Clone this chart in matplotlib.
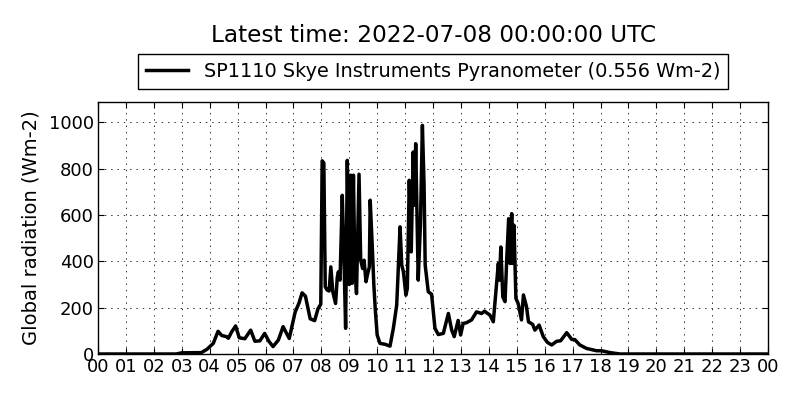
import matplotlib
matplotlib.use("Agg")
import matplotlib.pyplot as plt

hours = [0.0, 2.8, 3.0, 3.7, 3.9, 4.13, 4.3, 4.43, 4.6, 4.67, 4.79, 4.93, 5.06, 5.26, 5.47, 5.62,
         5.8, 5.97, 6.12, 6.27, 6.46, 6.63, 6.85, 7.06, 7.2, 7.31, 7.43, 7.6, 7.76, 7.88, 7.98,
         8.03, 8.09, 8.14, 8.21, 8.28, 8.34, 8.41, 8.51, 8.57, 8.61, 8.67, 8.75, 8.81, 8.87,
         8.93, 9.0, 9.05, 9.1, 9.15, 9.2, 9.26, 9.35, 9.41, 9.48, 9.53, 9.6, 9.66, 9.72, 9.75,
         9.82, 9.88, 9.93, 10.0, 10.1, 10.28, 10.46, 10.58, 10.7, 10.82, 10.88, 10.94, 11.03,
         11.08, 11.15, 11.22, 11.29, 11.34, 11.38, 11.47, 11.55, 11.62, 11.68, 11.72, 11.83,
         11.95, 12.07, 12.19, 12.37, 12.55, 12.67, 12.76, 12.9, 12.99, 13.08, 13.2, 13.38,
         13.56, 13.74, 13.85, 13.92, 14.04, 14.16, 14.34, 14.38, 14.43, 14.5, 14.58, 14.64,
         14.71, 14.76, 14.82, 14.85, 14.9, 14.97, 15.05, 15.11, 15.17, 15.24, 15.35, 15.42,
         15.57, 15.65, 15.8, 15.95, 16.1, 16.25, 16.43, 16.57, 16.79, 16.97, 17.08, 17.26,
         17.5, 17.86, 18.04, 18.34, 18.7, 24.0]
radiation = [0, 0, 5, 6, 20, 46, 98, 80, 75, 68, 96, 121, 70, 66, 103, 55,
             57, 89, 55, 32, 60, 118, 67, 180, 220, 264, 250, 152, 144, 195, 215,
             834, 825, 290, 276, 272, 376, 269, 218, 330, 355, 319, 685, 419, 111,
             836, 300, 772, 305, 772, 376, 261, 776, 405, 369, 405, 312, 347, 376, 664,
             477, 300, 197, 82, 46, 42, 34, 111, 211, 549, 384, 355, 254,
             283, 750, 441, 872, 642, 908, 319, 560, 987, 730, 384, 269,
             258, 111, 84, 89, 175, 103, 75, 145, 82, 132, 135, 147,
             182, 175, 185, 178, 168, 139, 391, 319, 462, 247, 226, 405,
             584, 391, 606, 391, 556, 240, 218, 182, 147, 255, 204, 139,
             128, 103, 125, 75, 50, 39, 55, 57, 92, 63, 62, 39,
             24, 14, 14, 6, 0, 0]

xtick_pos = list(range(25))
xtick_labels = ["%02d" % (h % 24) for h in range(25)]
yticks = [0, 200, 400, 600, 800, 1000]

fig = plt.figure(figsize=(8, 4), dpi=100, facecolor="white")
ax = fig.add_axes([0.1225, 0.115, 0.8375, 0.63])
ax.plot(hours, radiation, color="black", lw=2.5,
        label="SP1110 Skye Instruments Pyranometer (0.556 Wm-2)")
ax.set_xlim(0, 24)
ax.set_ylim(0, 1088)
ax.set_xticks(xtick_pos)
ax.set_xticklabels(xtick_labels)
ax.set_yticks(yticks)
ax.tick_params(direction="in", top=True, right=True, length=4, width=0.8, labelsize=13, pad=3)
ax.grid(True, color="#333333", linestyle=(0, (1.5, 5)), linewidth=0.7)
ax.set_ylabel("Global radiation (Wm-2)", fontsize=14, labelpad=6)
for s in ax.spines.values():
    s.set_linewidth(1.0)
leg = ax.legend(loc="lower center", bbox_to_anchor=(0.5, 1.052), fontsize=13.9,
                frameon=True, fancybox=False, edgecolor="black", framealpha=1,
                borderaxespad=0, handlelength=2.2)
leg.get_frame().set_linewidth(1.0)
fig.text(0.5415, 0.912, "Latest time: 2022-07-08 00:00:00 UTC", ha="center", va="center", fontsize=16.7)
fig.savefig("out.png", dpi=100, facecolor="white")
